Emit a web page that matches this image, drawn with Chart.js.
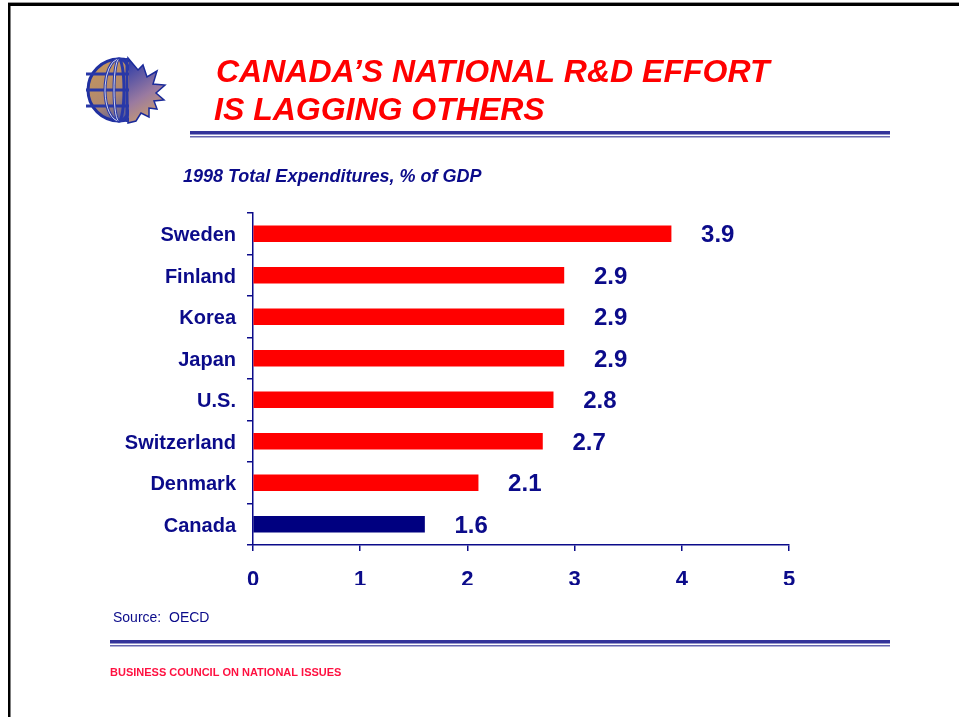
<!DOCTYPE html>
<html>
<head>
<meta charset="utf-8">
<title>Canada's National R&amp;D Effort</title>
<script src="https://cdn.jsdelivr.net/npm/chart.js@4.4.0/dist/chart.umd.min.js"></script>
<style>
    html, body { margin: 0; padding: 0; background: #fff; }
    #chart { display: block; }
</style>
</head>
<body>
<canvas id="chart" width="959" height="717"></canvas>
<script>
// Dépenses totales de R&D, 1998, en % du PIB
const countries = ['Sweden', 'Finland', 'Korea', 'Japan', 'U.S.', 'Switzerland', 'Denmark', 'Canada'];
const gdpShare = [3.9, 2.9, 2.9, 2.9, 2.8, 2.7, 2.1, 1.6];
const barColors = ['#ff0000', '#ff0000', '#ff0000', '#ff0000', '#ff0000', '#ff0000', '#ff0000', '#000080'];
const xTicks = [0, 1, 2, 3, 4, 5];

const NAVY = '#0b0b8a';
const LINE_BLUE = '#33339a';
const RED = '#ff0000';

// Logo : globe + demi-feuille d'érable
function drawLogo(ctx) {
    ctx.save();

    // feuille
    const leaf = [[128, 58], [138, 70], [143, 65], [147, 77], [157, 71], [153, 84], [165, 85],
                  [156, 93], [164, 100], [154, 101], [157, 109], [149, 108], [149, 117],
                  [141, 113], [136, 121], [128, 123]];
    const lg = ctx.createLinearGradient(128, 60, 165, 120);
    lg.addColorStop(0, '#2a3aa8');
    lg.addColorStop(0.55, '#9a7aa0');
    lg.addColorStop(1, '#d8a860');
    ctx.beginPath();
    ctx.moveTo(leaf[0][0], leaf[0][1]);
    leaf.slice(1).forEach(p => ctx.lineTo(p[0], p[1]));
    ctx.closePath();
    ctx.fillStyle = lg;
    ctx.fill();
    ctx.strokeStyle = '#1a2a9a';
    ctx.lineWidth = 1.5;
    ctx.stroke();

    // globe (moitié gauche)
    ctx.beginPath();
    ctx.rect(80, 50, 49, 80);
    ctx.clip();
    const gg = ctx.createLinearGradient(90, 60, 130, 120);
    gg.addColorStop(0, '#c89858');
    gg.addColorStop(0.6, '#b08870');
    gg.addColorStop(1, '#4050a8');
    ctx.beginPath();
    ctx.arc(119, 90, 31, 0, Math.PI * 2);
    ctx.fillStyle = gg;
    ctx.fill();
    ctx.lineWidth = 3;
    ctx.strokeStyle = '#2030a0';
    ctx.stroke();

    // quadrillage
    ctx.lineWidth = 3;
    ctx.strokeStyle = '#2838a8';
    [74, 90, 106].forEach(y => {
        ctx.beginPath();
        ctx.moveTo(86, y);
        ctx.lineTo(130, y);
        ctx.stroke();
    });
    [[14, 31], [5, 31]].forEach(e => {
        ctx.beginPath();
        ctx.ellipse(119, 90, e[0], e[1], 0, 0, Math.PI * 2);
        ctx.stroke();
    });
    ctx.beginPath();
    ctx.moveTo(127, 58);
    ctx.lineTo(127, 122);
    ctx.stroke();

    ctx.lineWidth = 1;
    ctx.strokeStyle = 'rgba(255,255,255,0.8)';
    [[14, 31], [5, 31]].forEach(e => {
        ctx.beginPath();
        ctx.ellipse(119, 90, e[0], e[1], 0, Math.PI * 0.55, Math.PI * 1.45);
        ctx.stroke();
    });
    ctx.restore();
}

// Double filet horizontal
function drawRule(ctx, x1, x2, y) {
    ctx.fillStyle = LINE_BLUE;
    ctx.fillRect(x1, y, x2 - x1, 3.5);
    ctx.fillStyle = '#6666b0';
    ctx.fillRect(x1, y + 5, x2 - x1, 1.5);
}

// Fond, cadre, titres et pied de page
const slidePlugin = {
    id: 'slide',
    beforeDraw(chart) {
        const ctx = chart.ctx;
        ctx.save();
        ctx.fillStyle = '#fff';
        ctx.fillRect(0, 0, chart.width, chart.height);

        // cadre
        ctx.fillStyle = '#999';
        ctx.fillRect(8, 2, chart.width - 8, 1);
        ctx.fillStyle = '#000';
        ctx.fillRect(8, 3, chart.width - 8, 3);
        ctx.fillRect(8, 3, 2.5, chart.height);

        drawLogo(ctx);

        ctx.fillStyle = RED;
        ctx.font = 'italic bold 32px "Liberation Sans", Arial, sans-serif';
        ctx.textAlign = 'left';
        ctx.textBaseline = 'alphabetic';
        ctx.fillText('CANADA\u2019S NATIONAL R&D EFFORT', 216, 82);
        ctx.fillText('IS LAGGING OTHERS', 214, 120);

        drawRule(ctx, 190, 890, 131);

        ctx.fillStyle = NAVY;
        ctx.font = 'italic bold 18px "Liberation Sans", Arial, sans-serif';
        ctx.fillText('1998 Total Expenditures, % of GDP', 183, 182);

        ctx.font = '14px "Liberation Sans", Arial, sans-serif';
        ctx.fillText('Source:  OECD', 113, 622);

        drawRule(ctx, 110, 890, 640);

        ctx.fillStyle = '#ff1040';
        ctx.font = 'bold 11px "Liberation Sans", Arial, sans-serif';
        ctx.fillText('BUSINESS COUNCIL ON NATIONAL ISSUES', 110, 676);
        ctx.restore();
    }
};

// Valeur à droite de chaque barre
const valueLabels = {
    id: 'valueLabels',
    afterDatasetsDraw(chart) {
        const ctx = chart.ctx;
        const meta = chart.getDatasetMeta(0);
        ctx.save();
        ctx.fillStyle = NAVY;
        ctx.font = 'bold 24px "Liberation Sans", Arial, sans-serif';
        ctx.textAlign = 'left';
        ctx.textBaseline = 'middle';
        meta.data.forEach((bar, i) => {
            ctx.fillText(gdpShare[i].toFixed(1), bar.x + 30, bar.y + 2);
        });
        ctx.restore();
    }
};

new Chart(document.getElementById('chart'), {
    type: 'bar',
    data: {
        labels: countries,
        datasets: [{
            data: gdpShare,
            backgroundColor: barColors,
            borderWidth: 0,
            barThickness: 16
        }]
    },
    options: {
        indexAxis: 'y',
        responsive: false,
        animation: false,
        events: [],
        layout: {
            padding: { left: 0, right: 170, top: 213, bottom: 132 }
        },
        plugins: {
            legend: { display: false },
            tooltip: { enabled: false }
        },
        scales: {
            x: {
                min: 0,
                max: 5,
                afterFit: scale => { scale.height = 40; },
                afterBuildTicks: scale => { scale.ticks = xTicks.map(v => ({ value: v })); },
                ticks: {
                    color: NAVY,
                    padding: 16,
                    font: { family: '"Liberation Sans", Arial, sans-serif', size: 22, weight: 'bold' }
                },
                grid: { drawOnChartArea: false, color: NAVY, tickLength: 6, lineWidth: 1.5 },
                border: { color: NAVY, width: 1.5 }
            },
            y: {
                afterFit: scale => { scale.width = 253; },
                ticks: {
                    color: NAVY,
                    padding: 11,
                    labelOffset: 2,
                    font: { family: '"Liberation Sans", Arial, sans-serif', size: 20, weight: 'bold' }
                },
                grid: { drawOnChartArea: false, color: NAVY, tickLength: 6, lineWidth: 1.5, offset: true },
                border: { color: NAVY, width: 1.5 }
            }
        }
    },
    plugins: [slidePlugin, valueLabels]
});
</script>
</body>
</html>
